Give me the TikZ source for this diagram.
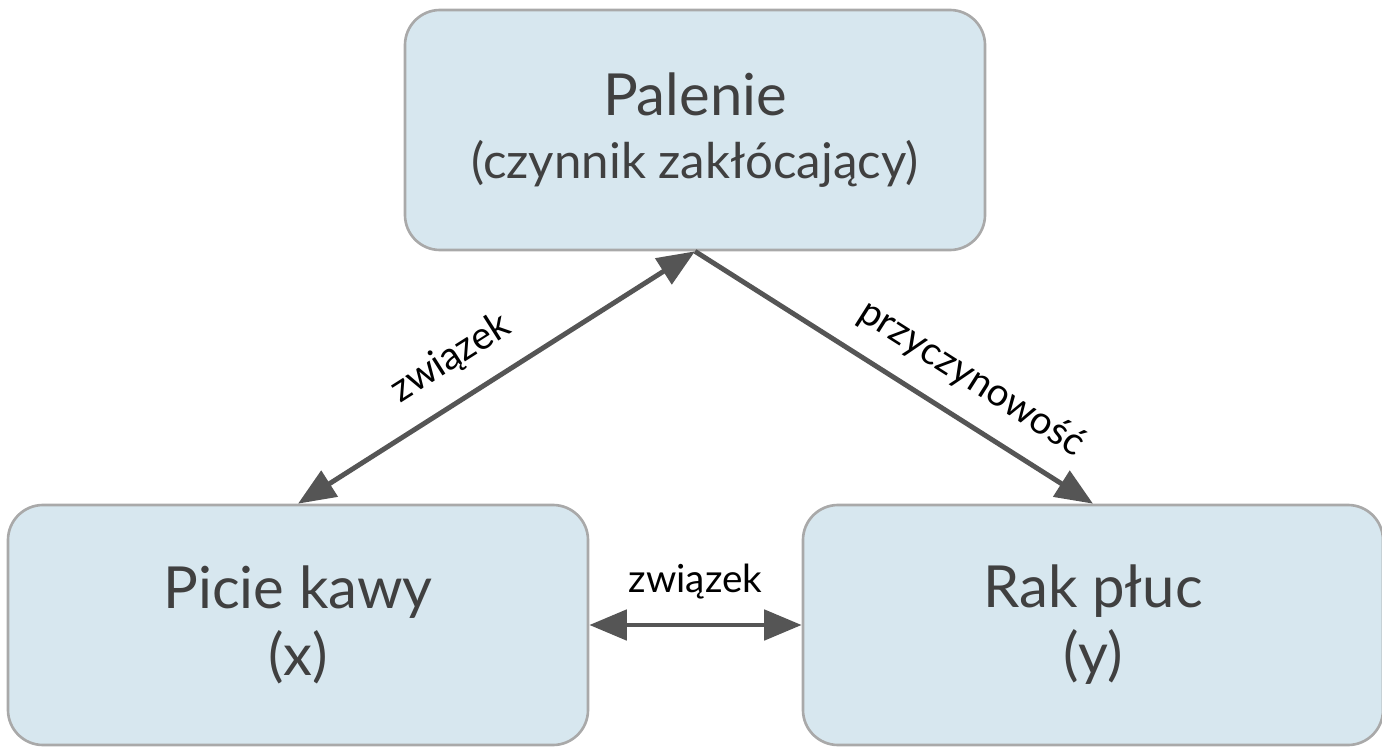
\documentclass[tikz,border=0pt]{standalone}
\usepackage{fontspec}
\setmainfont{Lato}
\usetikzlibrary{arrows.meta,positioning}
\definecolor{boxfill}{HTML}{D7E7EF}
\definecolor{boxline}{HTML}{A9A9A9}
\definecolor{arrowcol}{HTML}{555555}
\tikzset{%
	factor/.style = {draw=boxline, line width=1.5pt, fill=boxfill, rounded corners=0.7cm, minimum width=11.6cm, minimum height=4.8cm, align=center, text=black!75, font=\fontsize{33}{38}\selectfont},
	link/.style   = {draw=arrowcol, line width=2.8pt, -{Triangle[length=0.75cm,width=0.6cm]}},
	twolink/.style= {link, {Triangle[length=0.75cm,width=0.6cm]}-{Triangle[length=0.75cm,width=0.6cm]}},
	tag/.style    = {font=\fontsize{22}{26}\selectfont, text=black},
}
\begin{document}
\begin{tikzpicture}
	\useasboundingbox (0,0) rectangle (27.64,-15.04);
	\node [factor] (pal) at (13.9,-2.6) {Palenie\\[-2pt]{\fontsize{28}{38}\selectfont (czynnik zakłócający)}};
	\node [factor] (kawa) at (5.96,-12.5) {Picie kawy\\(x)};
	\node [factor] (rak) at (21.86,-12.5) {Rak płuc\\(y)};

	\draw [twolink] (pal.south) -- node[tag,sloped,above=0.3cm,pos=0.56] {związek} (kawa.north);
	\draw [link] (pal.south) -- node[tag,sloped,above=0.3cm,pos=0.64] {przyczynowość} (rak.north);
	\draw [twolink] (kawa.east) -- node[tag,above=0.35cm] {związek} (rak.west);
\end{tikzpicture}
\end{document}
